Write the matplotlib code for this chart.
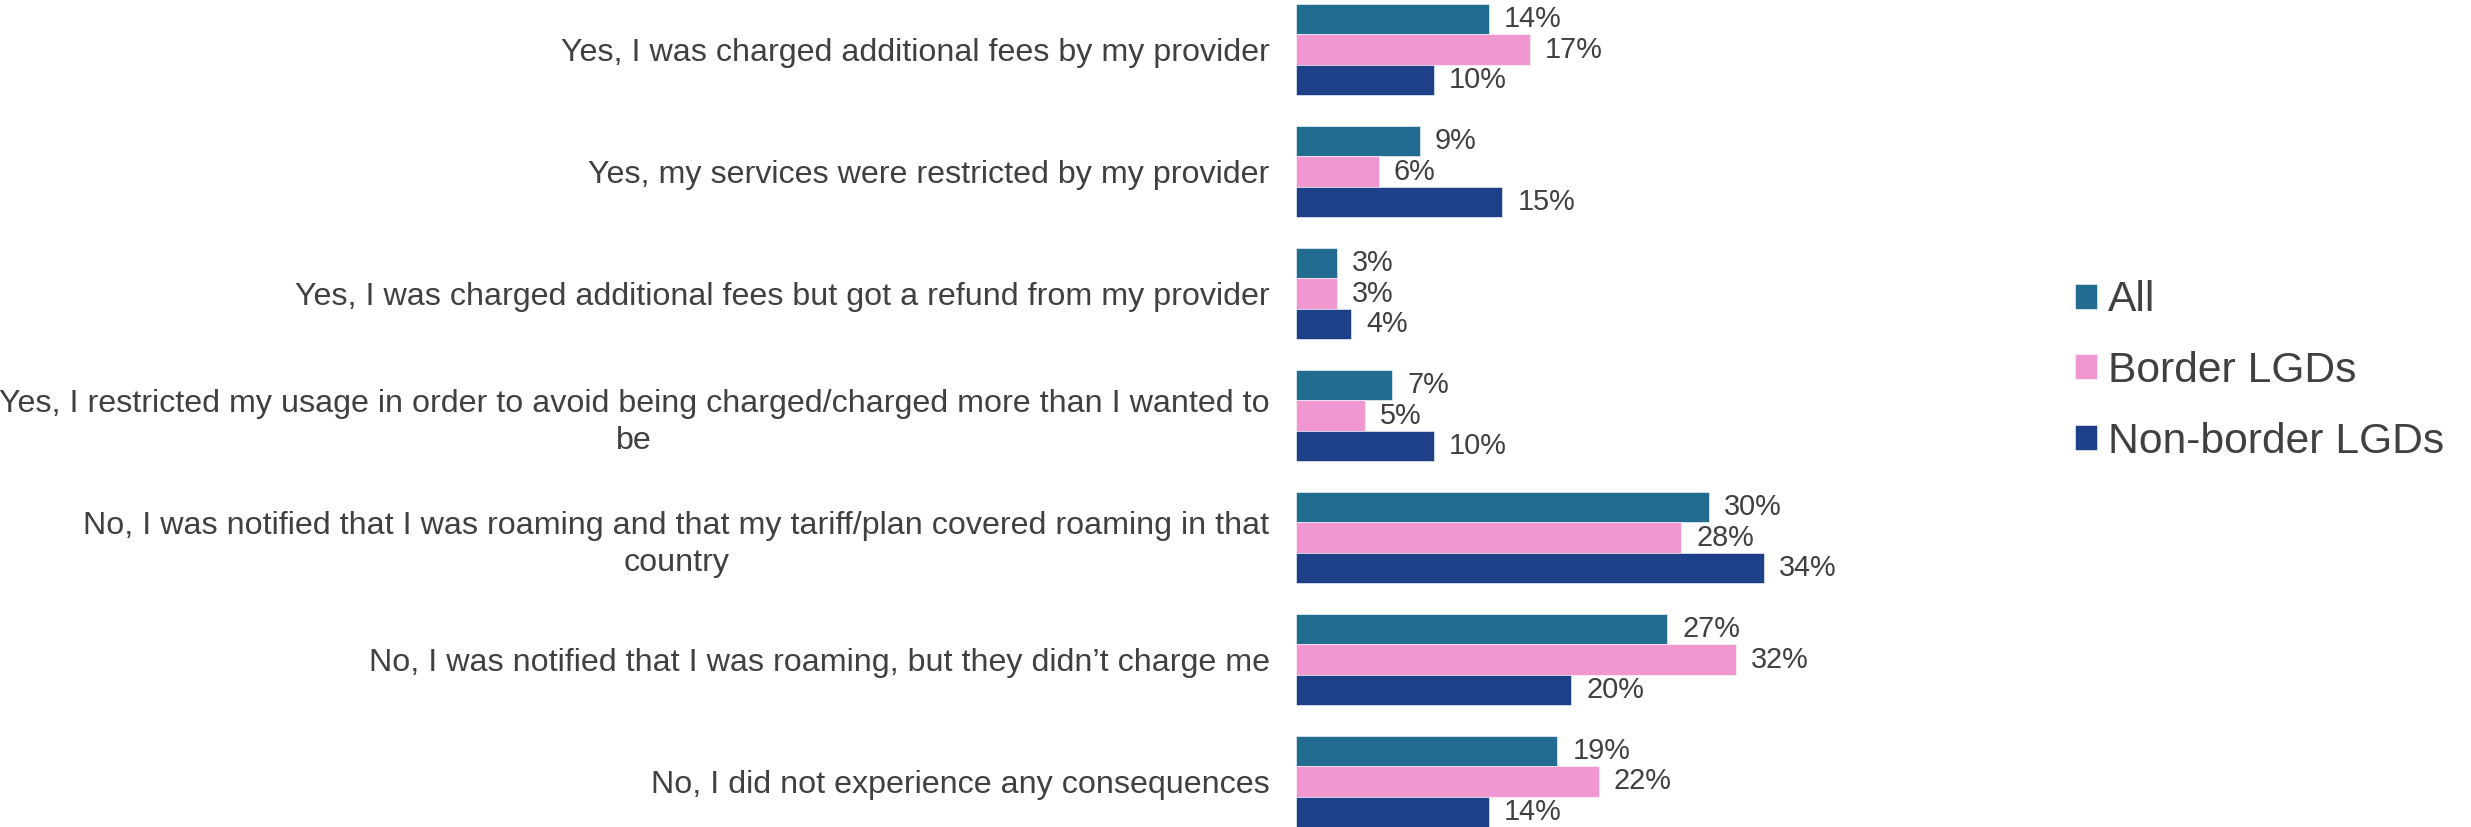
import numpy as np
import matplotlib
matplotlib.use("Agg")
import matplotlib.pyplot as plt

plt.rcParams['font.family'] = ['Liberation Sans', 'DejaVu Sans']

# Datos
categories = [
    "Yes, I was charged additional fees by my provider",
    "Yes, my services were restricted by my provider",
    "Yes, I was charged additional fees but got a refund from my provider",
    "Yes, I restricted my usage in order to avoid being charged/charged more than I wanted to\nbe",
    "No, I was notified that I was roaming and that my tariff/plan covered roaming in that\ncountry",
    "No, I was notified that I was roaming, but they didn\u2019t charge me",
    "No, I did not experience any consequences",
]
series_names = ["All", "Border LGDs", "Non-border LGDs"]
all_vals = [14, 9, 3, 7, 30, 27, 19]
border_vals = [17, 6, 3, 5, 28, 32, 22]
nonborder_vals = [10, 15, 4, 10, 34, 20, 14]
colors = ["#226C91", "#F096D0", "#1E4088"]

W, H = 2471, 827
fig = plt.figure(figsize=(W / 100, H / 100), dpi=100)
ax = fig.add_axes([1296 / W, 0, (2000 - 1296) / W, 1])

y = np.arange(len(categories))
h = 0.25
text_col = "#404040"
bars = []
for k, (vals, col) in enumerate(zip([all_vals, border_vals, nonborder_vals], colors)):
    b = ax.barh(y + (k - 1) * h, vals, height=h, color=col, label=series_names[k],
                edgecolor="white", linewidth=0.4)
    bars.append(b)
    for yy, v in zip(y + (k - 1) * h, vals):
        ax.text(v + 1.1, yy, f"{v}%", va="center", ha="left", fontsize=20.8, color=text_col)

ax.set_xlim(0, 51.2)
ax.set_ylim(6.373, -0.406)
ax.set_yticks(y)
ax.set_yticklabels(categories, fontsize=23.2, color=text_col)
for t in ax.get_yticklabels():
    t.set_multialignment("center")
    t.set_linespacing(1.3)
ax.tick_params(axis="y", length=0, pad=19)
ax.set_xticks([])
for s in ax.spines.values():
    s.set_visible(False)

fig.legend(handles=bars, labels=series_names, loc="center left",
           bbox_to_anchor=(2058 / W, 1 - 371 / H), frameon=False, fontsize=30.7,
           handlelength=0.52, handleheight=0.52, handletextpad=0.25,
           labelspacing=0.72, labelcolor=text_col, borderaxespad=0)

fig.savefig("out.png", dpi=100)
